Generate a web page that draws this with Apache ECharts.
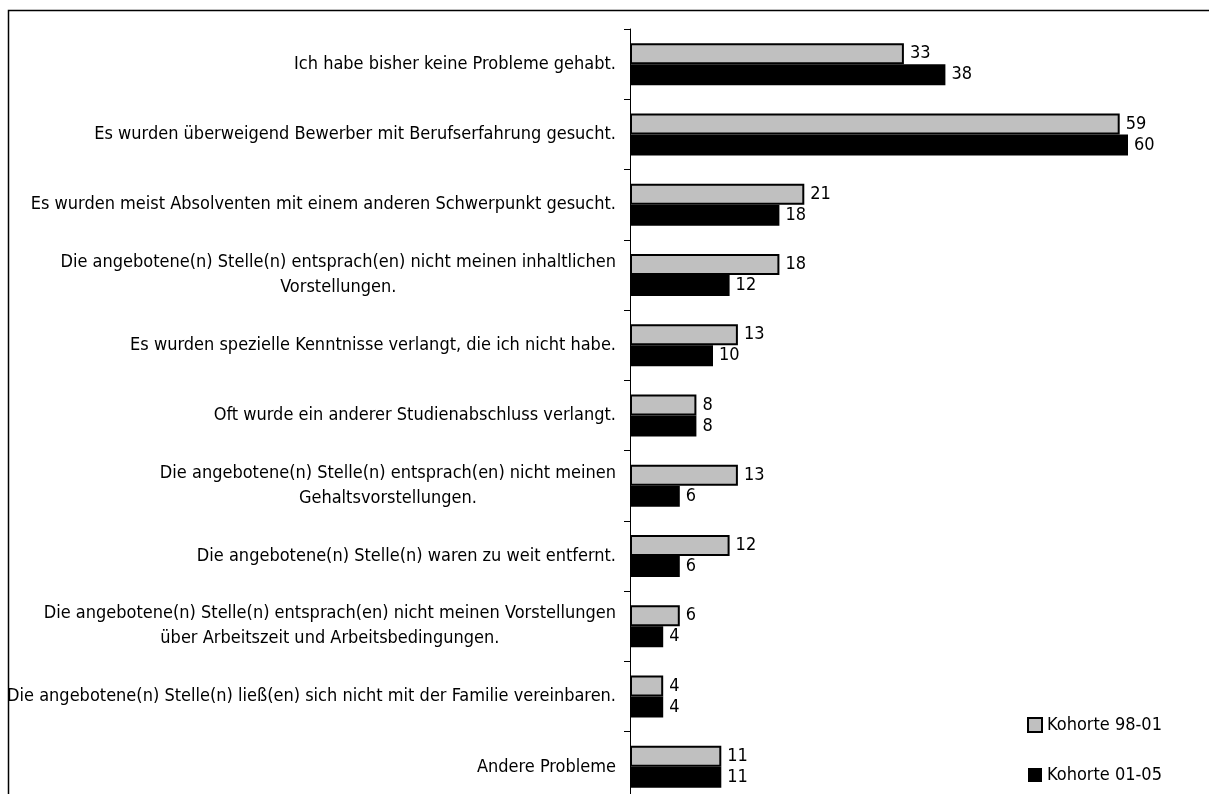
<!DOCTYPE html>
<html>
<head>
<meta charset="utf-8">
<script src="https://cdn.jsdelivr.net/npm/echarts@6/dist/echarts.min.js"></script>
<style>
html,body{margin:0;padding:0;background:#fff;}
#chart{width:1209px;height:794px;}
</style>
</head>
<body>
<div id="chart"></div>
<script>
const categories = [
  "Ich habe bisher keine Probleme gehabt.",
  "Es wurden überweigend Bewerber mit Berufserfahrung gesucht.",
  "Es wurden meist Absolventen mit einem anderen Schwerpunkt gesucht.",
  "Die angebotene(n) Stelle(n) entsprach(en) nicht meinen inhaltlichen\nVorstellungen.",
  "Es wurden spezielle Kenntnisse verlangt, die ich nicht habe.",
  "Oft wurde ein anderer Studienabschluss verlangt.",
  "Die angebotene(n) Stelle(n) entsprach(en) nicht meinen\nGehaltsvorstellungen.",
  "Die angebotene(n) Stelle(n) waren zu weit entfernt.",
  "Die angebotene(n) Stelle(n) entsprach(en) nicht meinen Vorstellungen\nüber Arbeitszeit und Arbeitsbedingungen.",
  "Die angebotene(n) Stelle(n) ließ(en) sich nicht mit der Familie vereinbaren.",
  "Andere Probleme"
];
const seriesNames = ["Kohorte 98-01", "Kohorte 01-05"];
const kohorte9801 = [33, 59, 21, 18, 13, 8, 13, 12, 6, 4, 11];
const kohorte0105 = [38, 60, 18, 12, 10, 8, 6, 6, 4, 4, 11];

const FONT = "'Liberation Sans Narrow', 'Arial Narrow', 'DejaVu Sans Condensed', sans-serif";
const FS = 18;

const chart = echarts.init(document.getElementById('chart'), null, {renderer: 'canvas'});
chart.setOption({
  animation: false,
  backgroundColor: '#fff',
  textStyle: {fontFamily: FONT},
  graphic: [{
    type: 'rect',
    shape: {x: 8.5, y: 10.5, width: 1400, height: 1000},
    style: {fill: 'none', stroke: '#000', lineWidth: 1.5},
    z: 0
  }],
  grid: {left: 630, top: 29, width: 581, height: 773, containLabel: false, outerBoundsMode: 'none'},
  xAxis: {
    type: 'value', min: 0, max: 70, show: false,
    splitLine: {show: false}
  },
  yAxis: {
    type: 'category',
    inverse: true,
    data: categories,
    axisLine: {show: true, lineStyle: {color: '#000', width: 1}},
    axisTick: {show: true, length: 6, lineStyle: {color: '#000'}, interval: 0},
    axisLabel: {
      interval: 0,
      margin: 14,
      color: '#000',
      fontFamily: FONT,
      fontSize: FS,
      formatter: function (v) {
        return v.split('\n').map(function (l) { return '{c|' + l + '}'; }).join('\n');
      },
      rich: {
        c: {align: 'center', fontFamily: FONT, fontSize: FS, color: '#000', lineHeight: 25}
      }
    }
  },
  legend: {
    orient: 'vertical',
    left: 1027,
    top: 716,
    height: 78,
    padding: 0,
    itemWidth: 14,
    itemHeight: 14,
    itemGap: 32,
    icon: 'rect',
    textStyle: {fontFamily: FONT, fontSize: FS, color: '#000', lineHeight: 14},
    data: seriesNames
  },
  series: [
    {
      name: seriesNames[0],
      type: 'bar',
      data: kohorte9801,
      barWidth: 21,
      barGap: '0%',
      itemStyle: {color: '#c0c0c0', borderColor: '#000', borderWidth: 2},
      label: {show: true, position: 'right', distance: 6, color: '#000', fontFamily: FONT, fontSize: FS}
    },
    {
      name: seriesNames[1],
      type: 'bar',
      data: kohorte0105,
      barWidth: 21,
      barGap: '0%',
      itemStyle: {color: '#000'},
      label: {show: true, position: 'right', distance: 6, color: '#000', fontFamily: FONT, fontSize: FS}
    }
  ]
});
</script>
</body>
</html>
